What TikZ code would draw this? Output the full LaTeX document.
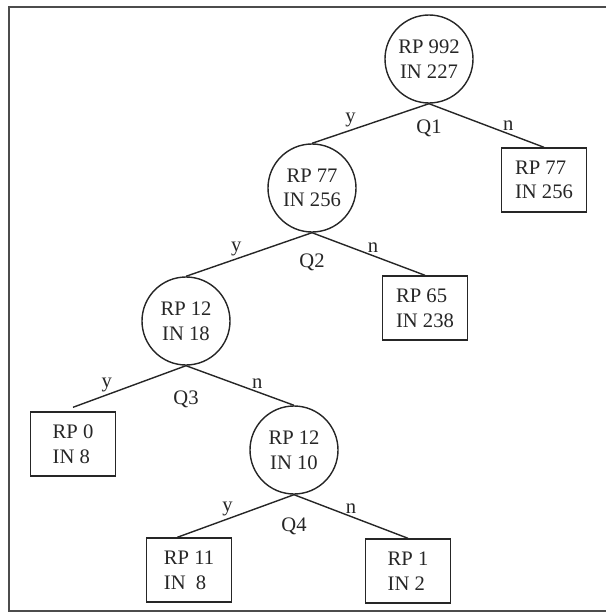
\documentclass[tikz,border=0pt]{standalone}
\usepackage{fontspec}
\setmainfont{Liberation Serif}
\usetikzlibrary{positioning,calc}

\begin{document}
\begin{tikzpicture}[
    x=0.03cm, y=-0.03cm,
    font=\fontsize{17.6}{21}\selectfont,
    color=black!85,
    inner/.style={circle, draw, line width=1.2pt, minimum size=2.64cm, inner sep=0pt, align=center},
    leaf/.style={rectangle, draw, line width=1.2pt, minimum width=2.55cm, minimum height=1.92cm, inner sep=0pt, align=left},
    branch/.style={line width=1.2pt},
    ans/.style={above=1pt, inner sep=1pt},
    quest/.style={inner sep=0pt}
  ]
  \useasboundingbox (0,0) rectangle (606,613);
  \draw[line width=1.3pt, black!70] (606,7) -- (9,7) -- (9,611) -- (606,611);

  \node[inner] (root) at (429,59) {RP 992\\IN 227};
  \node[inner] (rp77) at (312,188) {RP 77\\IN 256};
  \node[leaf] (leafA) at (544,180) {RP 77\\IN 256};
  \node[inner] (rp12a) at (186,321) {RP 12\\IN 18};
  \node[leaf] (leafB) at (425,308) {RP 65\\IN 238};
  \node[leaf] (leafC) at (73,444) {RP 0\\IN 8};
  \node[inner] (rp12b) at (294,450) {RP 12\\IN 10};
  \node[leaf] (leafD) at (189,570) {RP 11\\IN\ \ 8};
  \node[leaf] (leafE) at (408,571) {RP 1\\IN 2};

  \draw[branch] (root.south) -- node[ans, pos=0.67] {y} (rp77.north);
  \draw[branch] (root.south) -- node[ans, pos=0.69] {n} (leafA.north);
  \node[quest] (q1) at ([yshift=-0.75cm]root.south) {Q1};

  \draw[branch] (rp77.south) -- node[ans, pos=0.6] {y} (rp12a.north);
  \draw[branch] (rp77.south) -- node[ans, pos=0.54] {n} (leafB.north);
  \node[quest] (q2) at ([yshift=-0.9cm]rp77.south) {Q2};

  \draw[branch] (rp12a.south) -- node[ans, pos=0.7] {y} ([yshift=0.12cm]leafC.north);
  \draw[branch] (rp12a.south) -- node[ans, pos=0.66] {n} (rp12b.north);
  \node[quest] (q3) at ([yshift=-1cm]rp12a.south) {Q3};

  \draw[branch] (rp12b.south) -- node[ans, pos=0.57] {y} ([xshift=-0.35cm]leafD.north);
  \draw[branch] (rp12b.south) -- node[ans, pos=0.5] {n} (leafE.north);
  \node[quest] (q4) at ([yshift=-0.96cm]rp12b.south) {Q4};
\end{tikzpicture}
\end{document}
